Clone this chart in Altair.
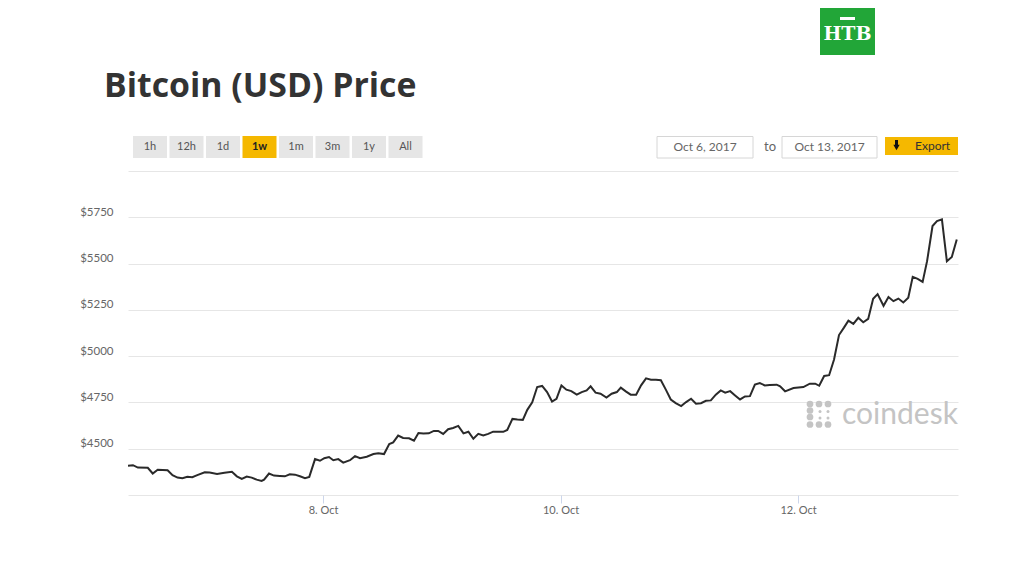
import altair as alt
import pandas as pd

# ---- data ----
start = "2017-10-06T08:35:00Z"
end = "2017-10-13T08:20:00Z"
hours = [0, 1, 2, 4, 5, 6, 8, 9, 10, 11, 12, 13, 14, 15.5, 16.5, 18, 19.5, 21, 22, 23,
         24, 25, 26, 27, 27.5, 28.5, 29.5, 30.7, 31.7, 32.7, 33.75, 34.76, 35.77, 36.64, 37.8, 38.8, 39.67, 40.62, 41.49, 42.5,
         43.5, 44.87, 45.88, 46.9, 48.25, 49.6, 50.6, 51.75, 52.8, 53.6, 54.6, 55.6, 56.8, 57.8, 58.7, 59.7, 60.8, 61.8, 62.7, 63.7,
         64.7, 65.7, 66.75, 67.8, 68.8, 69.8, 70.8, 71.8, 72.8, 73.8, 74.8, 75.85, 76.65, 77.7, 78.7, 79.8, 80.7, 81.7, 82.7, 83.7,
         84.7, 85.7, 86.6, 87.6, 88.6, 89.6, 90.7, 91.7, 92.7, 93.5, 94.5, 95.5, 96.7, 97.75, 98.8, 99.6, 100.6, 101.6, 102.7, 103.7,
         104.7, 105.7, 106.7, 107.7, 108.7, 109.7, 110.7, 111.8, 112.8, 113.8, 114.8, 115.8, 116.8, 117.8, 118.8, 119.8, 120.7, 121.7, 122.7, 123.7,
         124.7, 125.7, 126.7, 127.7, 128.7, 129.7, 131.1, 131.8, 132.8, 134.5, 136.5, 137.8, 138.9, 139.7, 140.7, 141.7, 142.7, 143.7, 144.7, 145.6,
         146.6, 147.6, 148.6, 149.6, 150.6, 151.5, 152.7, 153.7, 154.7, 155.7, 156.7, 157.7, 158.6, 159.6, 160.6, 161.5, 162.6, 163.5, 164.5, 165.5,
         166.5, 167.5]
prices = [4408, 4411, 4398, 4397, 4366, 4386, 4384, 4357, 4344, 4341, 4348, 4346, 4357, 4373, 4371, 4364, 4370, 4375, 4351, 4337,
          4350, 4344, 4333, 4326, 4333, 4366, 4355, 4353, 4351, 4362, 4360, 4351, 4341, 4348, 4444, 4435, 4449, 4455, 4438, 4444,
          4425, 4438, 4460, 4449, 4457, 4471, 4475, 4471, 4525, 4534, 4571, 4558, 4556, 4543, 4585, 4582, 4583, 4596, 4596, 4580,
          4605, 4612, 4623, 4583, 4592, 4554, 4580, 4572, 4580, 4592, 4592, 4591, 4601, 4661, 4658, 4656, 4710, 4750, 4833, 4839,
          4806, 4755, 4770, 4842, 4819, 4811, 4792, 4806, 4815, 4837, 4803, 4797, 4776, 4797, 4806, 4830, 4810, 4792, 4792, 4842,
          4880, 4873, 4873, 4870, 4819, 4766, 4746, 4730, 4752, 4770, 4743, 4746, 4759, 4761, 4792, 4815, 4803, 4811, 4788, 4766,
          4782, 4784, 4846, 4855, 4842, 4844, 4846, 4837, 4810, 4828, 4833, 4851, 4851, 4840, 4893, 4897, 4982, 5114, 5154, 5192,
          5174, 5207, 5183, 5201, 5310, 5335, 5272, 5319, 5297, 5311, 5290, 5315, 5428, 5417, 5401, 5513, 5703, 5730, 5739, 5513,
          5536, 5630]
y_ticks = [4250, 4500, 4750, 5000, 5250, 5500, 5750, 6000]
x_tick_days = [8, 10, 12]
buttons = ["1h", "12h", "1d", "1w", "1m", "3m", "1y", "All"]
selected = "1w"
date_from = "Oct 6, 2017"
date_to = "Oct 13, 2017"
title_text = "Bitcoin (USD) Price"

df = pd.DataFrame({
    "time": pd.Timestamp(start) + pd.to_timedelta(hours, unit="h"),
    "price": prices,
})

FONT = "Lato"
W, H = 830, 324

line = alt.Chart(df).mark_line(color="#2a2a2a", strokeWidth=2, interpolate="linear").encode(
    x=alt.X("time:T",
            scale=alt.Scale(type="utc", domain=[start, end]),
            axis=alt.Axis(values=[alt.DateTime(year=2017, month=10, date=d, utc=True) for d in x_tick_days],
                          labelExpr="utcFormat(datum.value, '%-d. %b')",
                          grid=False, domain=False, ticks=True, tickSize=8, tickColor="#ccd6eb",
                          labelPadding=1, labelFontSize=11, labelColor="#666666", labelFont=FONT,
                          labelAlign="center", title=None)),
    y=alt.Y("price:Q",
            scale=alt.Scale(domain=[4250, 6000], nice=False, zero=False),
            axis=alt.Axis(values=y_ticks,
                          labelExpr="datum.value >= 4500 && datum.value <= 5750 ? '$' + datum.value : ''",
                          grid=True, gridColor="#e6e6e6", gridWidth=1, domain=False, ticks=False, tickSize=0,
                          labelPadding=15, labelOffset=-5, labelFontSize=11.5, labelColor="#666666",
                          labelFont=FONT, title=None)),
)

one = pd.DataFrame({"k": [0]})
ox, oy = 128, 171  # page position of plot origin


def rect(x1, y1, x2, y2, fill, stroke=None, cr=0):
    kw = dict(fill=fill, cornerRadius=cr)
    if stroke:
        kw.update(stroke=stroke, strokeWidth=1)
    return alt.Chart(one).mark_rect(**kw).encode(
        x=alt.value(x1 - ox), x2=alt.value(x2 - ox), y=alt.value(y1 - oy), y2=alt.value(y2 - oy))


def text(t, x, y, size, color, align="center", weight="normal", baseline="middle", font=FONT):
    return alt.Chart(one).mark_text(align=align, baseline=baseline, fontSize=size, color=color,
                                    fontWeight=weight, font=font).encode(
        x=alt.value(x - ox), y=alt.value(y - oy), text=alt.value(t))


layers = []
# title
layers.append(text(title_text, 104, 97, 33.8, "#333333", align="left", weight="bold", baseline="alphabetic",
                   font="Open Sans"))
# range buttons
bx = [133, 169.5, 206, 242.5, 279, 315.5, 352, 388.5]
for b, x0 in zip(buttons, bx):
    sel = b == selected
    layers.append(rect(x0, 136, x0 + 34, 158, "#f5b800" if sel else "#e6e6e6"))
    layers.append(text(b, x0 + 17, 147, 11, "#222222" if sel else "#555555", weight="bold" if sel else "normal"))
# date inputs
layers.append(rect(657, 136.5, 753, 158, "#ffffff", stroke="#d6d6d6"))
layers.append(text(date_from, 705, 147, 12, "#666666"))
layers.append(text("to", 770, 147, 13, "#666666"))
layers.append(rect(782, 136.5, 877, 158, "#ffffff", stroke="#d6d6d6"))
layers.append(text(date_to, 829.5, 147, 12, "#666666"))
# export button
layers.append(rect(885, 137, 958, 155, "#f5b800"))
layers.append(rect(895, 140, 898, 146, "#111111"))
layers.append(alt.Chart(one).mark_point(shape="triangle-down", filled=True, color="#111111", size=40, opacity=1).encode(
    x=alt.value(896.5 - ox), y=alt.value(147.5 - oy)))
layers.append(text("Export", 915, 146, 12, "#333333", align="left"))
# NTV logo
layers.append(rect(820, 8, 875, 55, "#22a638"))
layers.append(text("НТВ", 847.5, 34, 19, "#ffffff", weight="bold", font="DejaVu Serif"))
layers.append(rect(840, 17, 855, 20, "#ffffff"))
# coindesk watermark
layers.append(text("coindesk", 842, 423.5, 30, "#c4c4c4", align="left", baseline="alphabetic"))
big = [(810, 404), (819, 404), (828, 404), (810, 410.5), (810, 417), (810, 424.5), (819, 424.5), (828, 424.5)]
small = [(820, 411.5), (828, 411.5), (820, 418), (828, 418)]
for (px, py) in big:
    layers.append(alt.Chart(one).mark_circle(color="#c4c4c4", size=45, opacity=1).encode(
        x=alt.value(px - ox), y=alt.value(py - oy)))
for (px, py) in small:
    layers.append(alt.Chart(one).mark_circle(color="#c4c4c4", size=9, opacity=1).encode(
        x=alt.value(px - ox), y=alt.value(py - oy)))

chart = alt.layer(line, *layers).properties(
    width=W, height=H,
    padding={"left": ox - 8, "top": oy - 8, "right": 50, "bottom": 60},
    autosize=alt.AutoSizeParams(type="none"),
    background="#ffffff",
).configure_view(stroke=None)

chart.save("out.html", embed_options={"renderer": "svg", "actions": False})
